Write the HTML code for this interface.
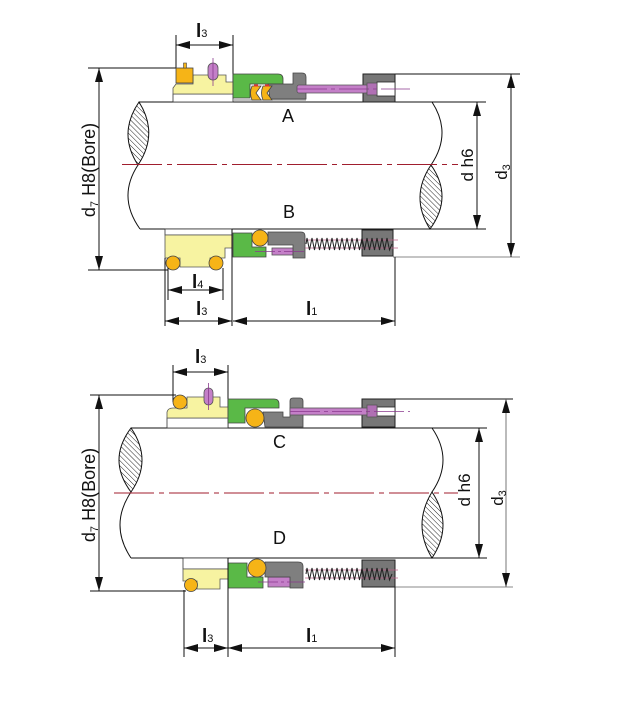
<!DOCTYPE html>
<html><head><meta charset="utf-8">
<style>
html,body{margin:0;padding:0;background:#fff;}
svg{display:block;}
text{font-family:"Liberation Sans",Arial,sans-serif;fill:#111;}
.lb{font-size:19px;font-weight:bold;}
.lb tspan{font-weight:normal;}
</style></head>
<body>
<svg width="618" height="714" viewBox="0 0 618 714" xmlns="http://www.w3.org/2000/svg">
<defs>
<marker id="ar" viewBox="0 0 14 8" refX="14" refY="4" markerWidth="14" markerHeight="8" orient="auto-start-reverse" markerUnits="userSpaceOnUse">
<path d="M0,0 L14,4 L0,8 Z" fill="#111"/>
</marker>
<pattern id="h" patternUnits="userSpaceOnUse" width="3.6" height="3.6" patternTransform="rotate(-45)">
<rect width="3.6" height="3.6" fill="#fff"/>
<line x1="0" y1="0" x2="0" y2="3.6" stroke="#111" stroke-width="0.9"/>
</pattern>
</defs>

<!-- ================= DIAGRAM 1 ================= -->
<line x1="139" y1="102" x2="486" y2="102" stroke="#111" stroke-width="1"/>
<line x1="140" y1="229" x2="486" y2="229" stroke="#111" stroke-width="1"/>
<path d="M139,102 Q159,133.5 138,165 Q117.5,133.5 139,102 Z" fill="url(#h)" stroke="#111" stroke-width="1"/>
<path d="M138,165 Q117,197 140,229" fill="none" stroke="#111" stroke-width="1"/>
<path d="M432,102 Q452.5,133.5 431,165" fill="none" stroke="#111" stroke-width="1"/>
<path d="M431,165 Q409.5,197 430,229 Q453.5,197 431,165 Z" fill="url(#h)" stroke="#111" stroke-width="1"/>
<line x1="122" y1="164.5" x2="458" y2="164.5" stroke="#a01e2e" stroke-width="1" stroke-dasharray="40 5 5 5"/>

<line x1="88" y1="68" x2="176" y2="68" stroke="#111" stroke-width="1"/>
<line x1="88" y1="270" x2="168" y2="270" stroke="#111" stroke-width="1"/>
<line x1="99" y1="68" x2="99" y2="270" stroke="#111" stroke-width="1" marker-start="url(#ar)" marker-end="url(#ar)"/>
<text transform="translate(95,170) rotate(-90)" text-anchor="middle" font-size="18">d<tspan font-size="11" dy="3">7</tspan><tspan dy="-3"> H8(Bore)</tspan></text>

<line x1="477" y1="102" x2="477" y2="229" stroke="#111" stroke-width="1" marker-start="url(#ar)" marker-end="url(#ar)"/>
<text transform="translate(473,165) rotate(-90)" text-anchor="middle" font-size="17">d h6</text>
<line x1="363" y1="74" x2="520" y2="74" stroke="#111" stroke-width="1"/>
<line x1="393" y1="257" x2="520" y2="257" stroke="#888" stroke-width="1"/>
<line x1="511" y1="74" x2="511" y2="257" stroke="#111" stroke-width="1" marker-start="url(#ar)" marker-end="url(#ar)"/>
<text transform="translate(507,172) rotate(-90)" text-anchor="middle" font-size="17">d<tspan font-size="11" dy="3">3</tspan></text>

<line x1="176" y1="35" x2="176" y2="68" stroke="#111" stroke-width="1"/>
<line x1="233" y1="35" x2="233" y2="82" stroke="#111" stroke-width="1"/>
<line x1="176" y1="45" x2="233" y2="45" stroke="#111" stroke-width="1" marker-start="url(#ar)" marker-end="url(#ar)"/>
<text class="lb" x="196" y="37">l<tspan font-size="11">3</tspan></text>

<rect x="173" y="94" width="60" height="8" fill="#fff" stroke="#333" stroke-width="0.8"/>
<path d="M173,94 L173,88 L176,84 L193,84 L193,75 L226,75 L226,82 L233,82 L233,94 Z" fill="#f7f3a1" stroke="#555" stroke-width="0.8"/>
<rect x="176" y="68" width="17" height="15" fill="#f6b417" stroke="#444" stroke-width="0.8"/>
<rect x="183.5" y="63" width="3" height="5" fill="#f6b417" stroke="#444" stroke-width="0.6"/>
<rect x="208" y="63" width="10" height="17" rx="5" fill="#c47fc8" stroke="#555" stroke-width="0.8"/>
<line x1="213" y1="58" x2="213" y2="86" stroke="#8a3a8e" stroke-width="0.8"/>
<path d="M233,74 L278,74 Q283,74 283,79 L283,84 L250,84 L250,98 L233,98 Z" fill="#5ab947" stroke="#444" stroke-width="0.8"/>
<line x1="233" y1="100" x2="306" y2="100" stroke="#999" stroke-width="1.2"/>
<path d="M268,84 L293,84 L293,73 L302,73 Q306,73 306,77 L306,99 L270,99 Z" fill="#7f7f7f" stroke="#444" stroke-width="0.8"/>
<path d="M252,86 L261,86 L256,93 L261,100 L252,100 Q249,93 252,86 Z" fill="#f6b417" stroke="#444" stroke-width="0.8"/>
<path d="M263,86 L272,86 L267,93 L272,100 L263,100 Q260,93 263,86 Z" fill="#f6b417" stroke="#444" stroke-width="0.8"/>
<rect x="254" y="84.5" width="4" height="2" fill="#d33"/>
<rect x="265" y="84.5" width="4" height="2" fill="#d33"/>
<rect x="363" y="74" width="32" height="28" fill="#777" stroke="#222" stroke-width="1"/>
<rect x="377" y="82" width="18" height="14" fill="#fff" stroke="#222" stroke-width="0.8"/>
<rect x="297" y="85" width="71" height="8" rx="2" fill="#c47fc8" stroke="#555" stroke-width="0.8"/>
<rect x="367" y="83" width="10" height="12" fill="#b070b4" stroke="#555" stroke-width="0.8"/>
<line x1="297" y1="89" x2="410" y2="89" stroke="#8a3a8e" stroke-width="0.8" stroke-dasharray="30 4 4 4"/>
<text x="282" y="122" font-size="18">A</text>

<rect x="165" y="229" width="67" height="6" fill="#fff" stroke="#333" stroke-width="0.8"/>
<path d="M165,235 L232,235 L232,248 L225,248 L225,258 L210,258 L210,267 L180,267 L180,258 L165,258 Z" fill="#f7f3a1" stroke="#555" stroke-width="0.8"/>
<circle cx="173" cy="263" r="7" fill="#f6b417" stroke="#444" stroke-width="0.8"/>
<circle cx="216" cy="263" r="7" fill="#f6b417" stroke="#444" stroke-width="0.8"/>
<path d="M233,233 L252,233 L252,247 L266,247 L266,257 L233,257 Z" fill="#5ab947" stroke="#444" stroke-width="0.8"/>
<rect x="272" y="248" width="28" height="7" fill="#c47fc8" stroke="#555" stroke-width="0.8"/>
<path d="M268,232 L301,232 Q305,232 305,236 L305,258 L293,258 L293,245 L268,245 Z" fill="#7f7f7f" stroke="#444" stroke-width="0.8"/>
<circle cx="260" cy="238" r="8" fill="#f6b417" stroke="#444" stroke-width="0.8"/>
<line x1="255" y1="251.5" x2="305" y2="251.5" stroke="#8a3a8e" stroke-width="0.7" stroke-dasharray="20 3 3 3"/>
<rect x="362" y="230" width="31" height="26" fill="#777" stroke="#222" stroke-width="1"/>
<line x1="305" y1="240" x2="398" y2="240" stroke="#c0608a" stroke-width="0.7"/>
<line x1="305" y1="248" x2="398" y2="248" stroke="#c0608a" stroke-width="0.7"/>
<polyline points="306,244 307,238 309.5,250 312,238 314.5,250 317,238 319.5,250 322,238 324.5,250 327,238 329.5,250 332,238 334.5,250 337,238 339.5,250 342,238 344.5,250 347,238 349.5,250 352,238 354.5,250 357,238 359.5,250 362,238 364.5,250 367,238 369.5,250 372,238 374.5,250 377,238 379.5,250 382,238 384.5,250 387,238 389.5,250 392,244" fill="none" stroke="#222" stroke-width="1"/>
<text x="283" y="218" font-size="18">B</text>

<line x1="165" y1="258" x2="165" y2="326" stroke="#111" stroke-width="1"/>
<line x1="232" y1="229" x2="232" y2="326" stroke="#111" stroke-width="1"/>
<line x1="395" y1="257" x2="395" y2="326" stroke="#111" stroke-width="1"/>
<line x1="168" y1="268" x2="168" y2="300" stroke="#111" stroke-width="1"/>
<line x1="223" y1="268" x2="223" y2="300" stroke="#111" stroke-width="1"/>
<line x1="168" y1="290" x2="223" y2="290" stroke="#111" stroke-width="1" marker-start="url(#ar)" marker-end="url(#ar)"/>
<text class="lb" x="192" y="288">l<tspan font-size="11">4</tspan></text>
<line x1="165" y1="321" x2="232" y2="321" stroke="#111" stroke-width="1" marker-start="url(#ar)" marker-end="url(#ar)"/>
<text class="lb" x="196" y="315">l<tspan font-size="11">3</tspan></text>
<line x1="233" y1="321" x2="395" y2="321" stroke="#111" stroke-width="1" marker-start="url(#ar)" marker-end="url(#ar)"/>
<text class="lb" x="306" y="315">l<tspan font-size="11">1</tspan></text>

<!-- ================= DIAGRAM 2 ================= -->
<line x1="131" y1="428" x2="487" y2="428" stroke="#111" stroke-width="1"/>
<line x1="131" y1="558" x2="487" y2="558" stroke="#111" stroke-width="1"/>
<path d="M131,428 Q153,460 131,492 Q107,460 131,428 Z" fill="url(#h)" stroke="#111" stroke-width="1"/>
<path d="M131,492 Q109,525 131,558" fill="none" stroke="#111" stroke-width="1"/>
<path d="M432,428 Q454,460 432,492" fill="none" stroke="#111" stroke-width="1"/>
<path d="M432,492 Q412,525 432,558 Q454,525 432,492 Z" fill="url(#h)" stroke="#111" stroke-width="1"/>
<line x1="114" y1="493" x2="458" y2="493" stroke="#a01e2e" stroke-width="1" stroke-dasharray="40 5 5 5"/>

<line x1="90" y1="395" x2="176" y2="395" stroke="#111" stroke-width="1"/>
<line x1="90" y1="591" x2="186" y2="591" stroke="#111" stroke-width="1"/>
<line x1="99" y1="395" x2="99" y2="591" stroke="#111" stroke-width="1" marker-start="url(#ar)" marker-end="url(#ar)"/>
<text transform="translate(95,495) rotate(-90)" text-anchor="middle" font-size="18">d<tspan font-size="11" dy="3">7</tspan><tspan dy="-3"> H8(Bore)</tspan></text>
<line x1="479" y1="428" x2="479" y2="558" stroke="#111" stroke-width="1" marker-start="url(#ar)" marker-end="url(#ar)"/>
<text transform="translate(470,490) rotate(-90)" text-anchor="middle" font-size="17">d h6</text>
<line x1="362" y1="399" x2="513" y2="399" stroke="#111" stroke-width="1"/>
<line x1="395" y1="587" x2="513" y2="587" stroke="#888" stroke-width="1"/>
<line x1="506" y1="399" x2="506" y2="587" stroke="#777" stroke-width="1" marker-start="url(#ar)" marker-end="url(#ar)"/>
<text transform="translate(503,498) rotate(-90)" text-anchor="middle" font-size="17">d<tspan font-size="11" dy="3">3</tspan></text>

<line x1="173" y1="365" x2="173" y2="402" stroke="#111" stroke-width="1"/>
<line x1="228" y1="365" x2="228" y2="428" stroke="#111" stroke-width="1"/>
<line x1="173" y1="372" x2="228" y2="372" stroke="#111" stroke-width="1" marker-start="url(#ar)" marker-end="url(#ar)"/>
<text class="lb" x="195" y="363">l<tspan font-size="11">3</tspan></text>

<rect x="167" y="418" width="61" height="10" fill="#fff" stroke="#333" stroke-width="0.8"/>
<path d="M167,418 L167,412 Q168,408 173,408 L187,408 L187,397 L220,397 L220,407 L228,407 L228,418 Z" fill="#f7f3a1" stroke="#555" stroke-width="0.8"/>
<circle cx="180" cy="402" r="7" fill="#f6b417" stroke="#444" stroke-width="0.8"/>
<rect x="204" y="388" width="9" height="17" rx="4.5" fill="#c47fc8" stroke="#555" stroke-width="0.8"/>
<line x1="208.5" y1="383" x2="208.5" y2="410" stroke="#8a3a8e" stroke-width="0.8"/>
<path d="M228,399 L274,399 Q279,399 279,404 L279,408 L245,408 L245,423 L228,423 Z" fill="#5ab947" stroke="#444" stroke-width="0.8"/>
<path d="M263,412 L283,412 L283,417 L290,417 L290,401 Q290,398 293,398 L300,398 Q303,398 303,401 L303,427 L265,427 Z" fill="#7f7f7f" stroke="#444" stroke-width="0.8"/>
<circle cx="255" cy="418" r="9" fill="#f6b417" stroke="#444" stroke-width="0.8"/>
<rect x="362" y="399" width="33" height="28" fill="#777" stroke="#222" stroke-width="1"/>
<rect x="377" y="407" width="18" height="9" fill="#fff" stroke="#222" stroke-width="0.8"/>
<rect x="290" y="408" width="78" height="7" fill="#c47fc8" stroke="#555" stroke-width="0.8"/>
<rect x="367" y="405" width="10" height="12" fill="#b070b4" stroke="#555" stroke-width="0.8"/>
<line x1="290" y1="411.5" x2="410" y2="411.5" stroke="#8a3a8e" stroke-width="0.8" stroke-dasharray="30 4 4 4"/>
<text x="273" y="448" font-size="18">C</text>

<rect x="183" y="558" width="45" height="11" fill="#fff" stroke="#333" stroke-width="0.8"/>
<path d="M183,569 L228,569 L228,579 L220,579 L220,589 L197,589 L197,581 L183,581 Z" fill="#f7f3a1" stroke="#555" stroke-width="0.8"/>
<circle cx="191" cy="585" r="6.5" fill="#f6b417" stroke="#444" stroke-width="0.8"/>
<path d="M228,563 L247,563 L247,577 L263,577 L263,588 L228,588 Z" fill="#5ab947" stroke="#444" stroke-width="0.8"/>
<rect x="268" y="577" width="30" height="10" fill="#c47fc8" stroke="#555" stroke-width="0.8"/>
<path d="M265,562 L298,562 Q303,562 303,566 L303,588 L290,588 L290,577 L265,577 Z" fill="#7f7f7f" stroke="#444" stroke-width="0.8"/>
<circle cx="257" cy="568" r="9" fill="#f6b417" stroke="#444" stroke-width="0.8"/>
<line x1="258" y1="582" x2="305" y2="582" stroke="#8a3a8e" stroke-width="0.7" stroke-dasharray="20 3 3 3"/>
<rect x="362" y="560" width="33" height="27" fill="#777" stroke="#222" stroke-width="1"/>
<line x1="305" y1="570" x2="398" y2="570" stroke="#c0608a" stroke-width="0.7"/>
<line x1="305" y1="578" x2="398" y2="578" stroke="#c0608a" stroke-width="0.7"/>
<polyline points="306,574 307,568 309.5,580 312,568 314.5,580 317,568 319.5,580 322,568 324.5,580 327,568 329.5,580 332,568 334.5,580 337,568 339.5,580 342,568 344.5,580 347,568 349.5,580 352,568 354.5,580 357,568 359.5,580 362,568 364.5,580 367,568 369.5,580 372,568 374.5,580 377,568 379.5,580 382,568 384.5,580 387,568 389.5,580 392,574" fill="none" stroke="#222" stroke-width="1"/>
<text x="273" y="544" font-size="18">D</text>

<line x1="184" y1="590" x2="184" y2="657" stroke="#111" stroke-width="1"/>
<line x1="228" y1="558" x2="228" y2="657" stroke="#111" stroke-width="1"/>
<line x1="395" y1="587" x2="395" y2="657" stroke="#111" stroke-width="1"/>
<line x1="184" y1="648" x2="228" y2="648" stroke="#111" stroke-width="1" marker-start="url(#ar)" marker-end="url(#ar)"/>
<text class="lb" x="202" y="642">l<tspan font-size="11">3</tspan></text>
<line x1="228" y1="648" x2="395" y2="648" stroke="#111" stroke-width="1" marker-start="url(#ar)" marker-end="url(#ar)"/>
<text class="lb" x="306" y="642">l<tspan font-size="11">1</tspan></text>
</svg>
</body></html>
